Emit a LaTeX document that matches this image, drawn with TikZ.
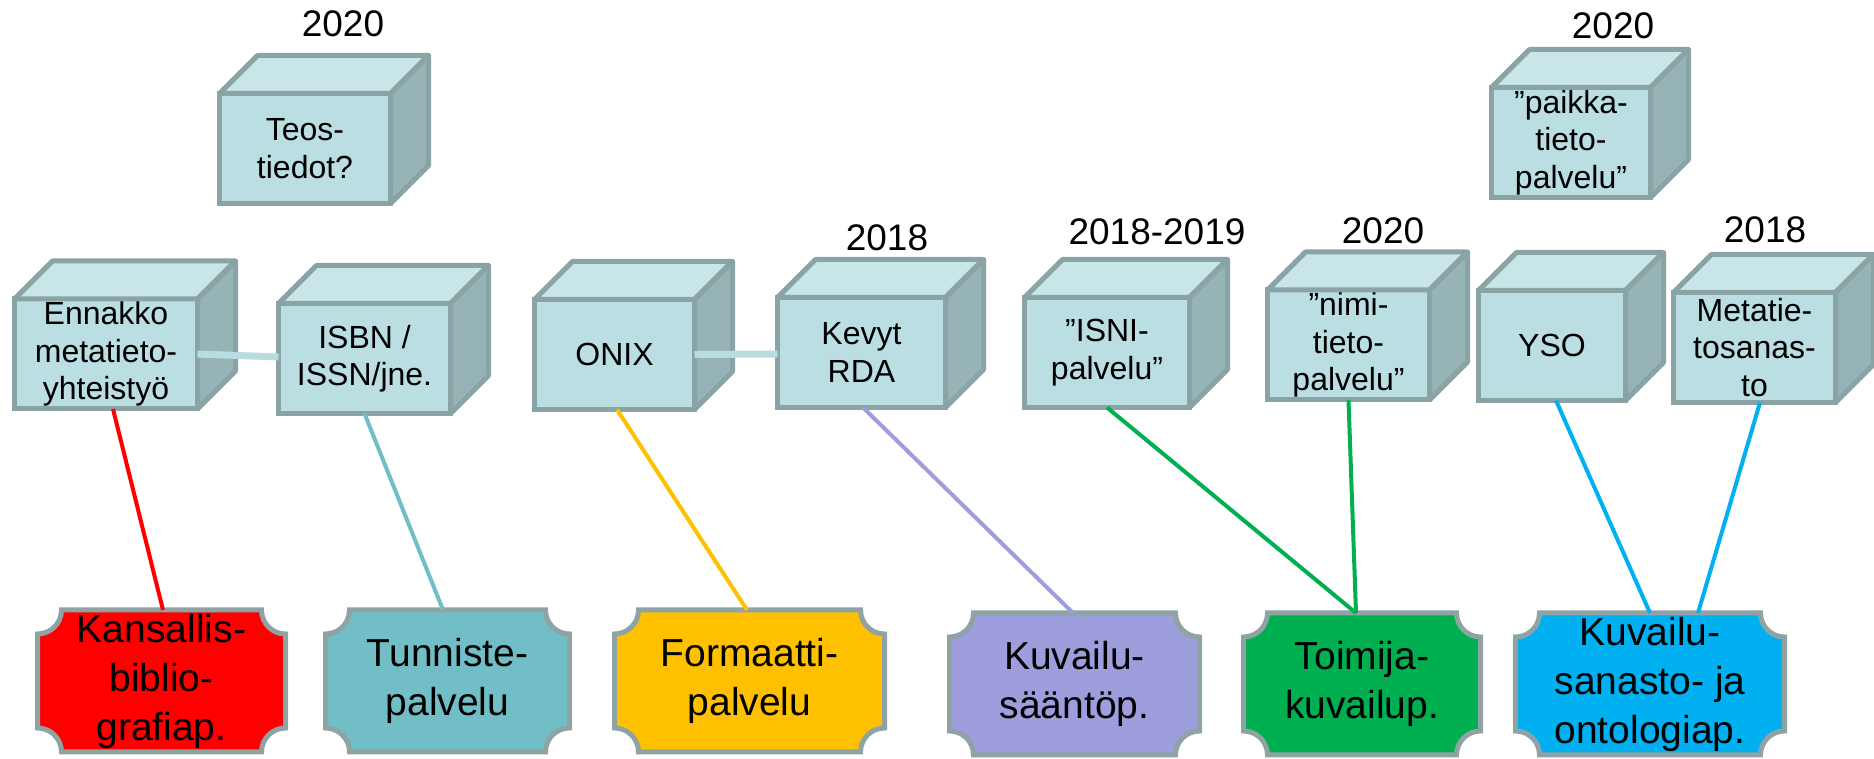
\documentclass[tikz,border=0pt]{standalone}
\usepackage{fontspec}
\setmainfont{Liberation Sans}
\usetikzlibrary{calc,backgrounds}
\definecolor{cubefront}{HTML}{BADEE2}
\definecolor{cubetop}{HTML}{C8E5E8}
\definecolor{cubeside}{HTML}{96B3B5}
\definecolor{cubeedge}{HTML}{8AA3A5}
\definecolor{linkcol}{HTML}{B8DDE1}
\definecolor{plaqueedge}{HTML}{8FA3A5}
\definecolor{kbred}{HTML}{FF0000}
\definecolor{tnteal}{HTML}{72BEC6}
\definecolor{fmorange}{HTML}{FFC000}
\definecolor{ksviolet}{HTML}{9E9EDC}
\definecolor{tkgreen}{HTML}{00B050}
\definecolor{ksblue}{HTML}{00B0F0}
\tikzset{line/.style={draw, line width=2pt}}

% laatta, jossa koverat kulmat
\newcommand{\plaque}[2]{%
  \draw [draw=plaqueedge, line width=2.5pt, fill=#2]
    ($(#1.north west)+(12pt,0pt)$) -- ($(#1.north east)+(-12pt,0pt)$)
    arc [start angle=180, end angle=270, radius=12pt]
    -- ($(#1.south east)+(0pt,12pt)$)
    arc [start angle=90, end angle=180, radius=12pt]
    -- ($(#1.south west)+(12pt,0pt)$)
    arc [start angle=0, end angle=90, radius=12pt]
    -- ($(#1.north west)+(0pt,-12pt)$)
    arc [start angle=270, end angle=360, radius=12pt]
    -- cycle;}

\begin{document}
\begin{tikzpicture}[x=0.5pt, y=0.5pt]
\tikzstyle{cube} = [rectangle, draw=cubeedge, fill=cubefront, line width=2.5pt, outer sep=0pt, inner sep=1pt, minimum height=55pt, align=center, font=\fontsize{16}{18.75}\selectfont]
\tikzstyle{face} = [draw=cubeedge, line width=2.5pt, line join=round]
\tikzstyle{service} = [rectangle, outer sep=0pt, inner sep=0pt, minimum height=71pt, align=center, font=\fontsize{19.5}{24.5}\selectfont]
\tikzstyle{year} = [font=\fontsize{18.5}{22}\selectfont]
\tikzstyle{link} = [draw=linkcol, line width=3.5pt]

\useasboundingbox (0,0) rectangle (1874,759);

% kuutiot
\node [cube, minimum width=91.5pt](ennakko) at (106,405) {Ennakko\\metatieto-\\yhteistyö};
\node [cube, minimum width=86pt](isbn) at (364.5,400.5) {ISBN /\\ISSN/jne.};
\node [cube, minimum width=85.5pt](teos) at (305,610.5) {Teos-\\tiedot?};
\node [cube, minimum width=80pt](onix) at (614.5,404.5) {ONIX};
\node [cube, minimum width=84pt](kevyt) at (861.5,406.5) {Kevyt\\RDA};
\node [cube, minimum width=82.5pt](isni) at (1107,406.5) {”ISNI-\\palvelu”};
\node [cube, minimum width=81pt](nimi) at (1348.5,414) {”nimi-\\tieto-\\palvelu”};
\node [cube, minimum width=73.5pt](yso) at (1552,413.5) {YSO};
\node [cube, minimum width=81pt](metatie) at (1754.5,411.5) {Metatie-\\tosanas-\\to};
\node [cube, minimum width=79.5pt](paikka) at (1571,616.5) {”paikka-\\tieto-\\palvelu”};

\foreach \c in {ennakko,isbn,teos,onix,kevyt,isni,nimi,yso,metatie,paikka} {
	\draw [face, fill=cubetop] (\c.north west) -- ++(19pt,19pt) -- ($(\c.north east)+(19pt,19pt)$) -- (\c.north east) -- cycle;
	\draw [face, fill=cubeside] (\c.north east) -- ++(19pt,19pt) -- ($(\c.south east)+(19pt,19pt)$) -- (\c.south east) -- cycle;
}

\draw [link] (ennakko.east) -- ([yshift=0.75pt]isbn.west);
\draw [link] (onix.east) -- ([yshift=-0.75pt]kevyt.west);

% vuodet
\node [year](y1) at (343,735) {2020};
\node [year](y2) at (887,521) {2018};
\node [year](y3) at (1157,527) {2018-2019};
\node [year](y4) at (1383,528) {2020};
\node [year](y5) at (1765,529) {2018};
\node [year](y6) at (1613,733) {2020};

% palvelut
\node [service, minimum width=124pt](kansallis) at (161.5,78) {Kansallis-\\biblio-\\grafiap.};
\node [service, minimum width=122pt](tunniste) at (447.5,78) {Tunniste-\\palvelu};
\node [service, minimum width=135pt](formaatti) at (749.5,78) {Formaatti-\\palvelu};
\node [service, minimum width=125pt](saanto) at (1074.5,75) {Kuvailu-\\sääntöp.};
\node [service, minimum width=118.5pt](toimija) at (1362,75) {Toimija-\\kuvailup.};
\node [service, minimum width=134.5pt](sanasto) at (1650,75) {Kuvailu-\\sanasto- ja\\ontologiap.};

\begin{scope}[on background layer]
	\plaque{kansallis}{kbred}
	\plaque{tunniste}{tnteal}
	\plaque{formaatti}{fmorange}
	\plaque{saanto}{ksviolet}
	\plaque{toimija}{tkgreen}
	\plaque{sanasto}{ksblue}
\end{scope}

% yhteydet
\draw [line, kbred] ([xshift=3.5pt]ennakko.south) -- ([xshift=0.75pt]kansallis.north);
\draw [line, tnteal] (isbn.south) -- ([xshift=-2.25pt]tunniste.north);
\draw [line, fmorange] ([xshift=1.25pt]onix.south) -- ([xshift=-1.25pt]formaatti.north);
\draw [line, ksviolet] ([xshift=0.75pt]kevyt.south) -- ([xshift=-0.75pt]saanto.north);
\draw [line, tkgreen] (isni.south) -- ([xshift=-3pt]toimija.north);
\draw [line, tkgreen] (nimi.south) -- ([xshift=-3pt]toimija.north);
\draw [line, ksblue] ([xshift=2pt]yso.south) -- (sanasto.north);
\draw [line, ksblue] ([xshift=2.75pt]metatie.south) -- ([xshift=24pt]sanasto.north);

\end{tikzpicture}
\end{document}
